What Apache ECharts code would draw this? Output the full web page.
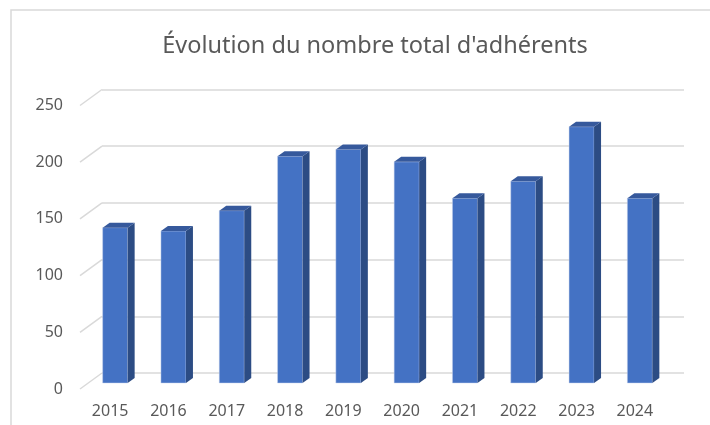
<!DOCTYPE html>
<html>
<head>
<meta charset="utf-8">
<script src="https://cdn.jsdelivr.net/npm/echarts@6/dist/echarts.min.js"></script>
<style>
html,body{margin:0;padding:0;background:#fff;}
#c{width:710px;height:425px;}
</style>
</head>
<body>
<div id="c"></div>
<script>
const years = ['2015','2016','2017','2018','2019','2020','2021','2022','2023','2024'];
const members = [137, 134, 152, 200, 206, 195, 163, 178, 226, 163];
const yTicks = [0, 50, 100, 150, 200, 250];
const title = "Évolution du nombre total d'adhérents";

const FRONT = '#4472C4', SIDE = '#2C4C84', TOP = '#36599C';
const GRID_C = '#D9D9D9', TEXT_C = '#595959';
const FONT = 'Noto Sans';
const WALL_DX = 22, WALL_DY = 16;   // depth of the floor/side wall
const BAR_DX = 7, BAR_DY = 5;       // depth of each bar
const BAR_W = 25;

const chart = echarts.init(document.getElementById('c'), null, {renderer: 'canvas'});

chart.setOption({
  animation: false,
  backgroundColor: '#fff',
  title: {
    text: title, left: 370, top: 29, textAlign: 'center',
    textStyle: {fontFamily: FONT, fontSize: 23.5, fontWeight: 'normal', color: TEXT_C}
  },
  graphic: [{
    type: 'rect', shape: {x: 11, y: 10, width: 800, height: 500},
    style: {fill: 'none', stroke: GRID_C, lineWidth: 1.5}, silent: true
  }],
  grid: [
    // back wall
    {left: 102, right: 26, top: 89.5, bottom: 52},
    // bars plane
    {left: 86, right: 41, top: 99.5, bottom: 42},
    // label plane (front)
    {left: 81, right: 46, top: 105.5, bottom: 36}
  ],
  xAxis: [
    {gridIndex: 0, type: 'value', min: 0, max: 1, show: false},
    {gridIndex: 1, type: 'category', data: years, show: false},
    {gridIndex: 2, type: 'category', data: years,
      axisLine: {show: false}, axisTick: {show: false},
      axisLabel: {color: TEXT_C, fontFamily: FONT, fontSize: 16, margin: 14}}
  ],
  yAxis: [
    {gridIndex: 0, type: 'value', min: 0, max: 250, interval: 50,
      axisLine: {show: false}, axisTick: {show: false}, axisLabel: {show: false},
      splitLine: {lineStyle: {color: GRID_C, width: 1.5}}},
    {gridIndex: 1, type: 'value', min: 0, max: 250, interval: 50, show: false},
    {gridIndex: 2, type: 'value', min: 0, max: 250, interval: 50,
      axisLine: {show: false}, axisTick: {show: false}, splitLine: {show: false},
      axisLabel: {color: TEXT_C, fontFamily: FONT, fontSize: 16, margin: 18}}
  ],
  series: [
    {
      type: 'custom', xAxisIndex: 0, yAxisIndex: 0, silent: true,
      data: yTicks.map(t => [0, t]),
      renderItem: function (params, api) {
        const p = api.coord([0, api.value(1)]);
        return {type: 'line',
          shape: {x1: p[0], y1: p[1], x2: p[0] - WALL_DX, y2: p[1] + WALL_DY},
          style: {stroke: GRID_C, lineWidth: 1.5}};
      }
    },
    {
      type: 'custom', xAxisIndex: 1, yAxisIndex: 1,
      data: members.map((v, i) => [i, v]),
      renderItem: function (params, api) {
        const b = api.coord([api.value(0), 0]);
        const t = api.coord([api.value(0), api.value(1)]);
        const x0 = b[0] - BAR_W / 2, x1 = b[0] + BAR_W / 2;
        return {type: 'group', children: [
          {type: 'rect', shape: {x: x0, y: t[1], width: BAR_W, height: b[1] - t[1]},
            style: {fill: FRONT, stroke: 'rgba(200,210,235,0.6)', lineWidth: 0.8}},
          {type: 'polygon', shape: {points: [[x1, b[1]], [x1 + BAR_DX, b[1] - BAR_DY], [x1 + BAR_DX, t[1] - BAR_DY], [x1, t[1]]]},
            style: {fill: SIDE}},
          {type: 'polygon', shape: {points: [[x0, t[1]], [x0 + BAR_DX, t[1] - BAR_DY], [x1 + BAR_DX, t[1] - BAR_DY], [x1, t[1]]]},
            style: {fill: TOP}}
        ]};
      }
    }
  ]
});
</script>
</body>
</html>
